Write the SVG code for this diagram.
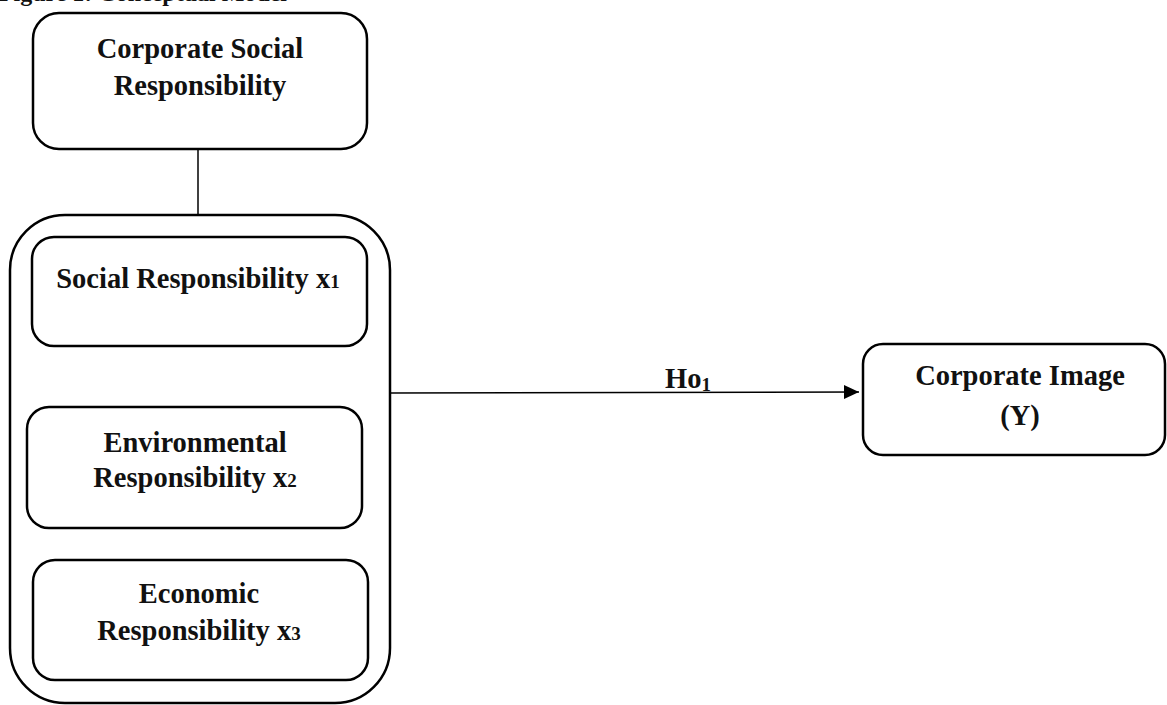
<svg xmlns="http://www.w3.org/2000/svg" width="1167" height="705" viewBox="0 0 1167 705">
<style>
.box{fill:#fff;stroke:#000;stroke-width:2.5}
.t{font-family:"Liberation Serif","Times New Roman",serif;font-weight:bold;font-size:28.5px;fill:#111;text-anchor:middle}
.sub{font-size:19px}
.ln{stroke:#000;stroke-width:1.5;fill:none}
</style>
<defs>
<marker id="ah" markerWidth="15" markerHeight="14" refX="15" refY="7" orient="auto" markerUnits="userSpaceOnUse">
<path d="M0,0 L15,7 L0,14 Z" fill="#000"/>
</marker>
</defs>
<text x="287" y="1" class="t" style="text-anchor:end;font-size:24px">Figure 1: Conceptual Model</text>
<g id="connectors">
<line class="ln" x1="390" y1="393" x2="859" y2="392" marker-end="url(#ah)"/>
<line class="ln" x1="198" y1="149" x2="198" y2="215"/>
<text x="688" y="388" class="t">Ho<tspan class="sub" dy="3">1</tspan></text>
</g>
<g id="csr">
<rect class="box" x="33" y="13" width="334" height="136" rx="26"/>
<text x="200" y="58" class="t">Corporate Social</text>
<text x="200" y="95" class="t">Responsibility</text>
</g>
<g id="container">
<rect class="box" x="10" y="215" width="380" height="488" rx="55"/>
</g>
<g id="social">
<rect class="box" x="32" y="237" width="335" height="109" rx="22"/>
<text x="198" y="288" class="t">Social Responsibility x<tspan class="sub">1</tspan></text>
</g>
<g id="environmental">
<rect class="box" x="27" y="407" width="335" height="121" rx="22"/>
<text x="195" y="452" class="t">Environmental</text>
<text x="195" y="487" class="t">Responsibility x<tspan class="sub">2</tspan></text>
</g>
<g id="economic">
<rect class="box" x="33" y="560" width="335" height="120" rx="22"/>
<text x="199" y="603" class="t">Economic</text>
<text x="199" y="640" class="t">Responsibility x<tspan class="sub">3</tspan></text>
</g>
<g id="image">
<rect class="box" x="863" y="344" width="302" height="111" rx="20"/>
<text x="1020" y="385" class="t">Corporate Image</text>
<text x="1020" y="425" class="t">(Y)</text>
</g>
</svg>
